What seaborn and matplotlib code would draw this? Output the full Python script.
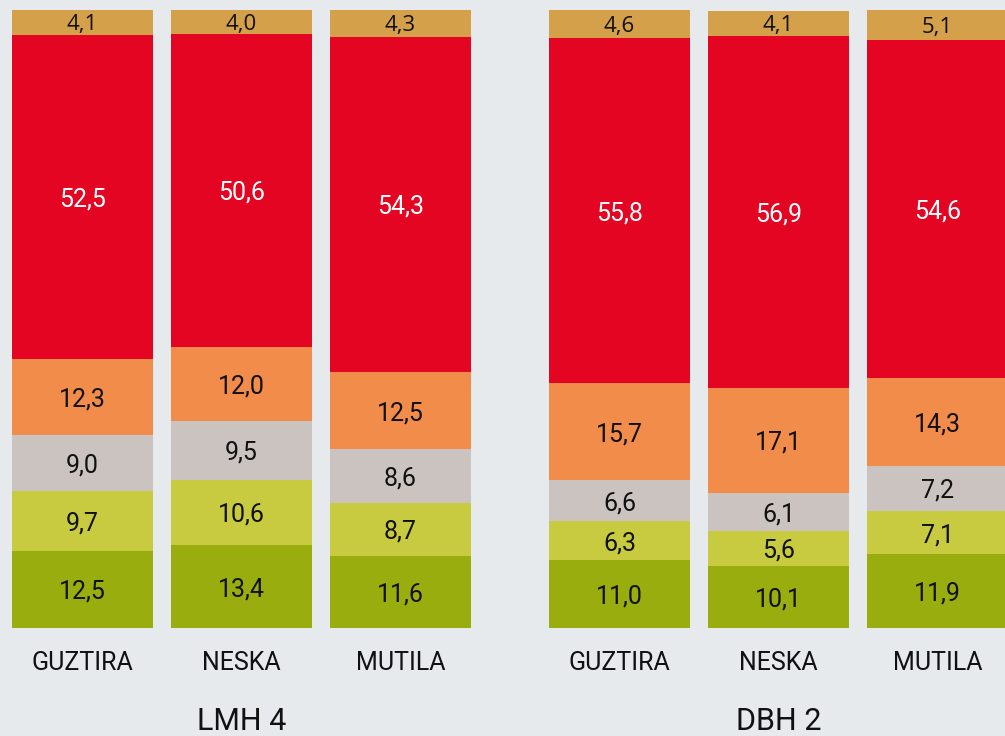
import numpy as np
import pandas as pd
import matplotlib
matplotlib.use("Agg")
import matplotlib.pyplot as plt
import matplotlib.transforms as mtransforms
import seaborn as sns

# Bar labels and groups
categories = ["GUZTIRA", "NESKA", "MUTILA", "GUZTIRA", "NESKA", "MUTILA"]
groups = ["LMH 4", "DBH 2"]
group_of_bar = [0, 0, 0, 1, 1, 1]

# Segment values, bottom to top
seg_olive = [12.5, 13.4, 11.6, 11.0, 10.1, 11.9]
seg_lime = [9.7, 10.6, 8.7, 6.3, 5.6, 7.1]
seg_grey = [9.0, 9.5, 8.6, 6.6, 6.1, 7.2]
seg_orange = [12.3, 12.0, 12.5, 15.7, 17.1, 14.3]
seg_red = [52.5, 50.6, 54.3, 55.8, 56.9, 54.6]
seg_tan = [4.1, 4.0, 4.3, 4.6, 4.1, 5.1]

segments = [seg_olive, seg_lime, seg_grey, seg_orange, seg_red, seg_tan]
colors = ["#99ae0e", "#c8cb40", "#cbc3bf", "#f28c4b", "#e30521", "#d4a04a"]
text_colors = ["#111111", "#111111", "#111111", "#111111", "#ffffff", "#111111"]

BG = "#e6eaed"
sns.set_theme(style="white", rc={"figure.facecolor": BG, "axes.facecolor": BG})
plt.rcParams["font.family"] = ["Roboto", "DejaVu Sans"]

# x positions: groups separated by an extra gap
group_gap = 0.377
positions = np.array([i + group_gap * g for i, g in enumerate(group_of_bar)])

fig = plt.figure(figsize=(10.05, 7.36), dpi=100)
ax = fig.add_axes([0, 108 / 736, 1, 618 / 736])

vals = np.array(segments)
cum = np.cumsum(vals, axis=0)

# Draw the cumulative stacks from the top layer down so each lower layer covers the previous one
for k in range(len(segments) - 1, -1, -1):
    df = pd.DataFrame({"pos": positions, "top": cum[k]})
    sns.barplot(data=df, x="pos", y="top", native_scale=True, width=0.887,
                color=colors[k], saturation=1, linewidth=0, errorbar=None, ax=ax)

# Value labels at the middle of each segment
for k, seg in enumerate(segments):
    bottoms = cum[k] - vals[k]
    for j, v in enumerate(seg):
        label = f"{v:.1f}".replace(".", ",")
        if k == len(segments) - 1:
            ax.text(positions[j], bottoms[j] + v / 2, label, ha="center",
                    va="center_baseline", fontsize=16, color=text_colors[k],
                    family=["Open Sans", "DejaVu Sans"])
        else:
            ax.text(positions[j], bottoms[j] + v / 2, label, ha="center",
                    va="center_baseline", fontsize=18, color=text_colors[k])

trans = mtransforms.blended_transform_factory(ax.transData, ax.transAxes)
for j, cat in enumerate(categories):
    ax.text(positions[j], -0.0566, cat, transform=trans, ha="center", va="center",
            fontsize=18, color="#111111")

for g, name in enumerate(groups):
    idx = [j for j, gg in enumerate(group_of_bar) if gg == g]
    ax.text(positions[idx].mean(), -0.152, name, transform=trans, ha="center",
            va="center", fontsize=22, color="#111111")

ax.set_xlim(-82.5 / 159, (1005 - 82.5) / 159)
ax.set_ylim(0, 100)
ax.set_axis_off()

fig.savefig("out.png", dpi=100, facecolor=BG)
